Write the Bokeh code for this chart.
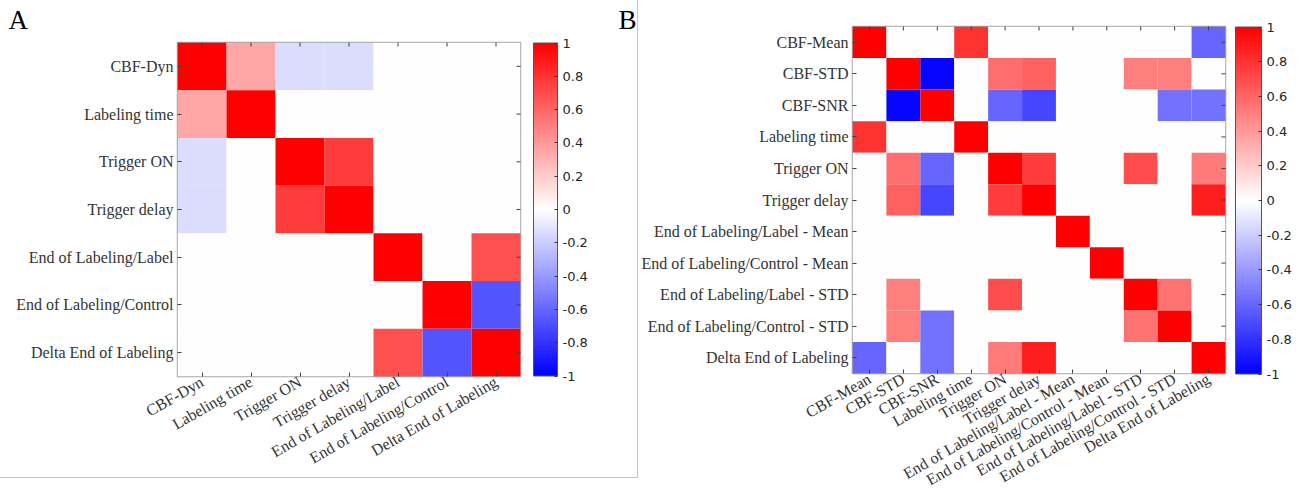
import math
from bokeh.plotting import figure
from bokeh.models import (LinearColorMapper, ColorBar, FixedTicker, CustomJSTickFormatter,
                          Label, ColumnDataSource, FactorRange)
from bokeh.layouts import row
from bokeh.embed import file_html
from bokeh.resources import INLINE

# ---------------- data ----------------
vars_a = ["CBF-Dyn", "Labeling time", "Trigger ON", "Trigger delay",
          "End of Labeling/Label", "End of Labeling/Control", "Delta End of Labeling"]
corr_a = [
    [1.00, 0.35, -0.14, -0.14, 0.00, 0.00, 0.00],
    [0.35, 1.00, 0.00, 0.00, 0.00, 0.00, 0.00],
    [-0.14, 0.00, 1.00, 0.76, 0.00, 0.00, 0.00],
    [-0.14, 0.00, 0.76, 1.00, 0.00, 0.00, 0.00],
    [0.00, 0.00, 0.00, 0.00, 1.00, 0.00, 0.68],
    [0.00, 0.00, 0.00, 0.00, 0.00, 1.00, -0.67],
    [0.00, 0.00, 0.00, 0.00, 0.68, -0.67, 1.00],
]

vars_b = ["CBF-Mean", "CBF-STD", "CBF-SNR", "Labeling time", "Trigger ON", "Trigger delay",
          "End of Labeling/Label - Mean", "End of Labeling/Control - Mean",
          "End of Labeling/Label - STD", "End of Labeling/Control - STD", "Delta End of Labeling"]
corr_b = [
    [1.00, 0.00, 0.00, 0.80, 0.00, 0.00, 0.00, 0.00, 0.00, 0.00, -0.60],
    [0.00, 1.00, -0.98, 0.00, 0.57, 0.62, 0.00, 0.00, 0.50, 0.50, 0.00],
    [0.00, -0.98, 1.00, 0.00, -0.60, -0.72, 0.00, 0.00, 0.00, -0.55, -0.55],
    [0.80, 0.00, 0.00, 1.00, 0.00, 0.00, 0.00, 0.00, 0.00, 0.00, 0.00],
    [0.00, 0.57, -0.60, 0.00, 1.00, 0.76, 0.00, 0.00, 0.70, 0.00, 0.52],
    [0.00, 0.62, -0.72, 0.00, 0.76, 1.00, 0.00, 0.00, 0.00, 0.00, 0.88],
    [0.00, 0.00, 0.00, 0.00, 0.00, 0.00, 1.00, 0.00, 0.00, 0.00, 0.00],
    [0.00, 0.00, 0.00, 0.00, 0.00, 0.00, 0.00, 1.00, 0.00, 0.00, 0.00],
    [0.00, 0.50, 0.00, 0.00, 0.70, 0.00, 0.00, 0.00, 1.00, 0.55, 0.00],
    [0.00, 0.50, -0.55, 0.00, 0.00, 0.00, 0.00, 0.00, 0.55, 1.00, 0.00],
    [-0.60, 0.00, -0.55, 0.00, 0.52, 0.88, 0.00, 0.00, 0.00, 0.00, 1.00],
]

cbar_ticks = [-1.0, -0.8, -0.6, -0.4, -0.2, 0.0, 0.2, 0.4, 0.6, 0.8, 1.0]
panel_letters = ["A", "B"]

# ---------------- styling ----------------
def bwr_palette(n=256):
    cols = []
    for i in range(n):
        t = -1 + 2 * i / (n - 1)
        if t < 0:
            c = int(round(255 * (1 + t)))
            cols.append("#%02x%02x%02x" % (c, c, 255))
        else:
            c = int(round(255 * (1 - t)))
            cols.append("#%02x%02x%02x" % (255, c, c))
    return cols

PALETTE = bwr_palette()
SERIF = "Liberation Serif"
SANS = "DejaVu Sans"
TXT = "#333333"
FRAME = "#a6a6a6"
TICK = "#404040"


def heatmap(names, corr, frame_w, frame_h, mb_left, mb_top, mb_right, mb_bottom,
            cb_w, cb_h, cb_gap):
    n = len(names)
    xs, ys, vs = [], [], []
    for i, rn in enumerate(names):
        for j, cn in enumerate(names):
            xs.append(cn)
            ys.append(rn)
            vs.append(corr[i][j])
    src = ColumnDataSource(dict(x=xs, y=ys, v=vs))
    mapper = LinearColorMapper(palette=PALETTE, low=-1, high=1)

    p = figure(x_range=FactorRange(*names), y_range=FactorRange(*names[::-1]),
               frame_width=frame_w, frame_height=frame_h,
               min_border_left=mb_left, min_border_top=mb_top,
               min_border_right=mb_right, min_border_bottom=mb_bottom,
               output_backend="svg", toolbar_location=None, tools="")
    p.title = None
    p.frame_align = False
    p.rect(x="x", y="y", width=1, height=1, source=src,
           fill_color={"field": "v", "transform": mapper}, line_color=None)

    # inward box ticks on the top and right frame edges (outer half is clipped by the frame)
    p.scatter(x=names, y=[n] * n, marker="dash", size=8, angle=math.pi / 2,
              line_color=TICK, line_width=1)
    p.scatter(x=[n] * n, y=names, marker="dash", size=8, angle=0,
              line_color=TICK, line_width=1)

    p.grid.visible = False
    p.outline_line_color = FRAME
    p.outline_line_width = 1.5
    p.background_fill_color = "white"
    for ax in (p.xaxis[0], p.yaxis[0]):
        ax.axis_line_color = None
        ax.major_tick_in = 4
        ax.major_tick_out = 0
        ax.major_tick_line_color = TICK
        ax.major_label_text_font = SERIF
        ax.major_label_text_font_size = "16px"
        ax.major_label_text_color = TXT
        ax.major_label_standoff = 4
    p.xaxis.major_label_orientation = math.pi / 6
    p.xaxis.major_label_standoff = 4

    cb = ColorBar(color_mapper=mapper, width=cb_w, height=cb_h,
                  ticker=FixedTicker(ticks=cbar_ticks),
                  formatter=CustomJSTickFormatter(code="return tick.toFixed(1).replace(/\\.0$/, '');"),
                  location="center_left", margin=0, padding=cb_gap,
                  major_label_text_font=SANS, major_label_text_font_size="13px",
                  major_label_text_color="#262626", label_standoff=5,
                  major_tick_in=3, major_tick_out=0, major_tick_line_color="#333333",
                  bar_line_color="#555555", bar_line_width=1,
                  background_fill_color=None, border_line_color=None)
    p.add_layout(cb, "right")
    return p


pa = heatmap(vars_a, corr_a, 342, 333, 177, 42, 118, 102, 24, 333, 13)
pb = heatmap(vars_b, corr_b, 373, 347, 208, 26, 77, 121, 26, 347, 10)

# panel letters, anchored to panel A's frame edges and shifted in pixels
n_a = len(vars_a)
pa.add_layout(Label(x=0, x_offset=-169, y=23, x_units="data", y_units="screen",
                    text=panel_letters[0], text_font=SERIF, text_font_size="27px",
                    text_color="black", text_baseline="alphabetic"), "above")
pa.add_layout(Label(x=n_a, x_offset=98, y=357, x_units="data", y_units="screen",
                    text=panel_letters[1], text_font=SERIF, text_font_size="27px",
                    text_color="black", text_baseline="alphabetic"), "right")

pa.styles = {"border-right": "1px solid #c4c4c4", "border-bottom": "1px solid #c4c4c4"}

layout = row(pa, pb)
open("out.html", "w").write(file_html(layout, INLINE))
